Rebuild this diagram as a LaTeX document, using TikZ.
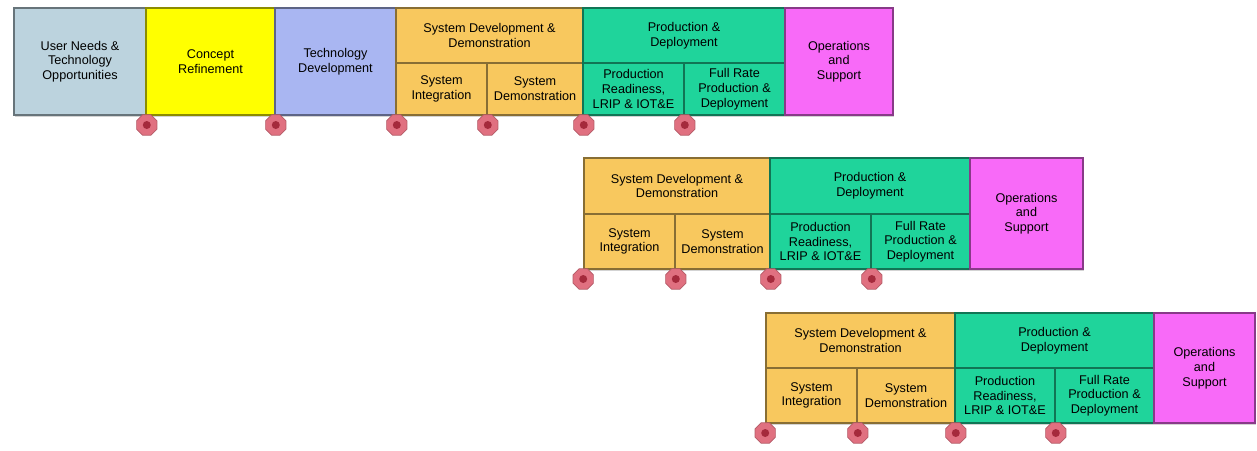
\documentclass[tikz,border=0pt]{standalone}
\usepackage{fontspec}
\setmainfont{Liberation Sans}
\usetikzlibrary{calc}
\usetikzlibrary{shapes}
\usetikzlibrary{shadows}
\definecolor{needs}{HTML}{BCD3DE}
\definecolor{concept}{HTML}{FFFF00}
\definecolor{techdev}{HTML}{A9B6F2}
\definecolor{sdd}{HTML}{F8C85E}
\definecolor{prod}{HTML}{1FD49B}
\definecolor{ops}{HTML}{F86AF8}
\definecolor{mspink}{HTML}{E07080}
\definecolor{msdark}{HTML}{A52A3C}
\tikzset{
    phase/.style={draw=#1!55!black, line width=0.9pt, inner sep=0pt, align=center,
        font=\fontsize{7.2}{8.4}\selectfont, drop shadow={shadow xshift=0.6pt, shadow yshift=-1.2pt, opacity=0.35}},
    milestone/.style={shape=regular polygon, regular polygon sides=8, minimum size=0.44cm, inner sep=0pt,
        fill=mspink, draw=mspink!80!black, line width=0.4pt,
        path picture={\fill[msdark] (path picture bounding box.center) circle (0.08cm);}}
}
\newcommand{\phase}[7]{ \node[phase=#6, fill=#6, minimum width={(#4-#2)*0.02cm}, minimum height={(#5-#3)*0.02cm}] (#1) at ({(#2+#4)/2},{(#3+#5)/2}) {#7};}

\begin{document}
\begin{tikzpicture}[x=0.02cm, y=-0.02cm]
        \useasboundingbox (0,0) rectangle (1257,450);
        % row1
        \phase{needsA}{14}{8}{146}{115}{needs}{User Needs \&\\Technology\\Opportunities}
        \phase{conceptA}{146}{8}{275}{115}{concept}{Concept\\Refinement}
        \phase{techA}{275}{8}{396}{115}{techdev}{Technology\\Development}
        \phase{sddA}{396}{8}{583}{63}{sdd}{System Development \&\\Demonstration}
        \phase{sintA}{396}{63}{487}{115}{sdd}{System\\Integration}
        \phase{sdemA}{487}{63}{583}{115}{sdd}{System\\Demonstration}
        \phase{prodA}{583}{8}{785}{63}{prod}{Production \&\\Deployment}
        \phase{lripA}{583}{63}{684}{115}{prod}{Production\\Readiness,\\LRIP \& IOT\&E}
        \phase{frpA}{684}{63}{785}{115}{prod}{Full Rate\\Production \&\\Deployment}
        \phase{opsA}{785}{8}{893}{115}{ops}{Operations\\and\\Support}
        % row2
        \phase{sddB}{584}{158}{770}{214}{sdd}{System Development \&\\Demonstration}
        \phase{sintB}{584}{214}{675}{269}{sdd}{System\\Integration}
        \phase{sdemB}{675}{214}{770}{269}{sdd}{System\\Demonstration}
        \phase{prodB}{770}{158}{970}{214}{prod}{Production \&\\Deployment}
        \phase{lripB}{770}{214}{871}{269}{prod}{Production\\Readiness,\\LRIP \& IOT\&E}
        \phase{frpB}{871}{214}{970}{269}{prod}{Full Rate\\Production \&\\Deployment}
        \phase{opsB}{970}{158}{1083}{269}{ops}{Operations\\and\\Support}
        % row3
        \phase{sddC}{766}{313}{955}{368}{sdd}{System Development \&\\Demonstration}
        \phase{sintC}{766}{368}{857}{423}{sdd}{System\\Integration}
        \phase{sdemC}{857}{368}{955}{423}{sdd}{System\\Demonstration}
        \phase{prodC}{955}{313}{1154}{368}{prod}{Production \&\\Deployment}
        \phase{lripC}{955}{368}{1055}{423}{prod}{Production\\Readiness,\\LRIP \& IOT\&E}
        \phase{frpC}{1055}{368}{1154}{423}{prod}{Full Rate\\Production \&\\Deployment}
        \phase{opsC}{1154}{313}{1255}{423}{ops}{Operations\\and\\Support}
        % milestones row1
        \node[milestone] (cdA) at (needsA.south east |- 0,125) {};
        \node[milestone] (msaA) at (conceptA.south east |- 0,125) {};
        \node[milestone] (msbA) at (techA.south east |- 0,125) {};
        \node[milestone] (drrA) at (sintA.south east |- 0,125) {};
        \node[milestone] (mscA) at (sdemA.south east |- 0,125) {};
        \node[milestone] (frpdA) at (lripA.south east |- 0,125) {};
        % milestones row2
        \node[milestone] (msbB) at (sintB.south west |- 0,279) {};
        \node[milestone] (drrB) at (sintB.south east |- 0,279) {};
        \node[milestone] (mscB) at (sdemB.south east |- 0,279) {};
        \node[milestone] (frpdB) at (lripB.south east |- 0,279) {};
        % milestones row3
        \node[milestone] (msbC) at (sintC.south west |- 0,433) {};
        \node[milestone] (drrC) at (sintC.south east |- 0,433) {};
        \node[milestone] (mscC) at (sdemC.south east |- 0,433) {};
        \node[milestone] (frpdC) at (lripC.south east |- 0,433) {};
    \end{tikzpicture}
\end{document}
